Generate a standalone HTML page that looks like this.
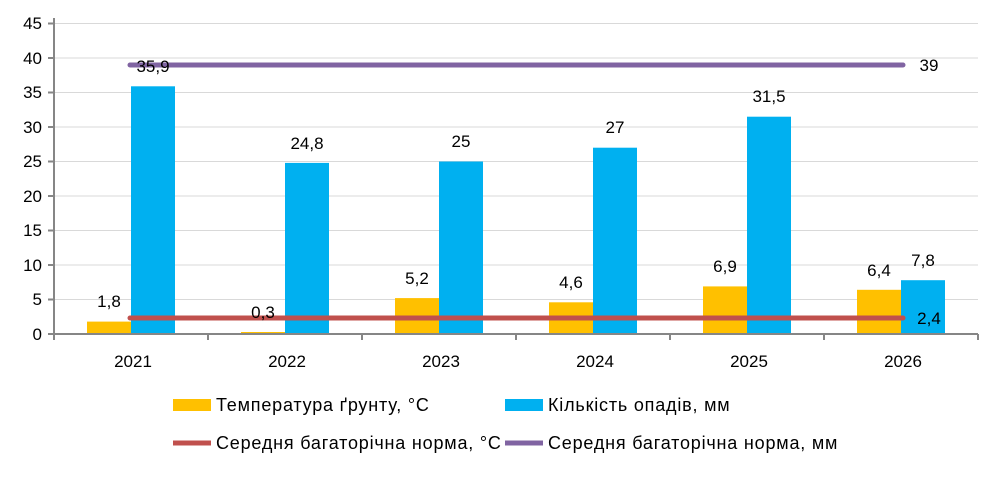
<!DOCTYPE html>
<html><head><style>body{margin:0;background:#fff}</style></head><body>
<svg width="1000" height="472" xmlns="http://www.w3.org/2000/svg" font-family="Liberation Sans, sans-serif">
<g stroke="#d9d9d9" stroke-width="1">
<line x1="54" x2="978" y1="23.5" y2="23.5"/><line x1="54" x2="978" y1="58" y2="58"/><line x1="54" x2="978" y1="92.5" y2="92.5"/><line x1="54" x2="978" y1="127" y2="127"/><line x1="54" x2="978" y1="161.5" y2="161.5"/><line x1="54" x2="978" y1="196" y2="196"/><line x1="54" x2="978" y1="230.5" y2="230.5"/><line x1="54" x2="978" y1="265" y2="265"/><line x1="54" x2="978" y1="299.5" y2="299.5"/>
</g>
<g fill="#ffc000">
<rect x="87" y="321.6" width="44" height="12.4"/><rect x="241" y="332" width="44" height="2"/><rect x="395" y="298.1" width="44" height="35.9"/><rect x="549" y="302.3" width="44" height="31.7"/><rect x="703" y="286.4" width="44" height="47.6"/><rect x="857" y="289.8" width="44" height="44.2"/>
</g>
<g fill="#00b0f0">
<rect x="131" y="86.3" width="44" height="247.7"/><rect x="285" y="162.9" width="44" height="171.1"/><rect x="439" y="161.5" width="44" height="172.5"/><rect x="593" y="147.7" width="44" height="186.3"/><rect x="747" y="116.7" width="44" height="217.3"/><rect x="901" y="280.2" width="44" height="53.8"/>
</g>
<g stroke="#868686" stroke-width="2">
<line x1="54" y1="18" x2="54" y2="340"/><line x1="48" y1="334" x2="978" y2="334"/>
<line x1="208" y1="334" x2="208" y2="340"/><line x1="362" y1="334" x2="362" y2="340"/><line x1="516" y1="334" x2="516" y2="340"/><line x1="670" y1="334" x2="670" y2="340"/><line x1="824" y1="334" x2="824" y2="340"/><line x1="978" y1="334" x2="978" y2="340"/>
</g>
<g stroke-width="2" stroke="#868686">
<line x1="48" x2="54" y1="23.5" y2="23.5"/><line x1="48" x2="54" y1="58" y2="58"/><line x1="48" x2="54" y1="92.5" y2="92.5"/><line x1="48" x2="54" y1="127" y2="127"/><line x1="48" x2="54" y1="161.5" y2="161.5"/><line x1="48" x2="54" y1="196" y2="196"/><line x1="48" x2="54" y1="230.5" y2="230.5"/><line x1="48" x2="54" y1="265" y2="265"/><line x1="48" x2="54" y1="299.5" y2="299.5"/>
</g>
<line x1="130" y1="318" x2="903" y2="318" stroke="#c0504d" stroke-width="5" stroke-linecap="round"/>
<line x1="130" y1="65" x2="903" y2="65" stroke="#8064a2" stroke-width="5" stroke-linecap="round"/>
<g font-size="17" fill="#000" text-anchor="end">
<text x="42" y="29">45</text><text x="42" y="64">40</text><text x="42" y="98">35</text><text x="42" y="133">30</text><text x="42" y="167">25</text><text x="42" y="202">20</text><text x="42" y="236">15</text><text x="42" y="271">10</text><text x="42" y="305">5</text><text x="42" y="340">0</text>
</g>
<g font-size="17" text-anchor="middle">
<text x="133" y="367">2021</text><text x="287" y="367">2022</text><text x="441" y="367">2023</text><text x="595" y="367">2024</text><text x="749" y="367">2025</text><text x="903" y="367">2026</text>
<text x="109" y="307">1,8</text><text x="263" y="318">0,3</text><text x="417" y="284">5,2</text><text x="571" y="288">4,6</text><text x="725" y="272">6,9</text><text x="879" y="276">6,4</text>
<text x="153" y="72">35,9</text><text x="307" y="149">24,8</text><text x="461" y="147">25</text><text x="615" y="133">27</text><text x="769" y="102">31,5</text><text x="923" y="266">7,8</text>
<text x="929" y="71">39</text><text x="929" y="324">2,4</text>
</g>
<g font-size="18" letter-spacing="0.8">
<rect x="173" y="399" width="38" height="12" fill="#ffc000"/><text x="216" y="411">Температура ґрунту, °C</text>
<rect x="505" y="399" width="38" height="12" fill="#00b0f0"/><text x="548" y="411">Кількість опадів, мм</text>
<line x1="173" y1="443" x2="211" y2="443" stroke="#c0504d" stroke-width="5"/><text x="216" y="449">Середня багаторічна норма, °C</text>
<line x1="505" y1="443" x2="543" y2="443" stroke="#8064a2" stroke-width="5"/><text x="548" y="449">Середня багаторічна норма, мм</text>
</g>
</svg>
</body></html>
